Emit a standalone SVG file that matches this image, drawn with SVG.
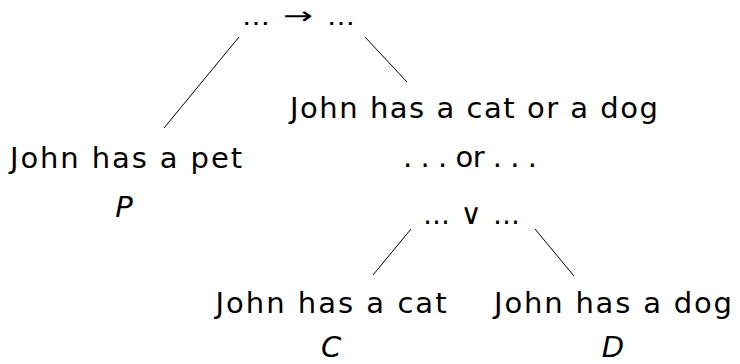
<svg xmlns="http://www.w3.org/2000/svg" width="740" height="364" viewBox="0 0 740 364">
<style>
text{font-family:"DejaVu Sans","Liberation Sans",sans-serif;font-size:29px;fill:#000}
.m{text-anchor:middle}
.i{font-style:italic}
.s{font-size:24px}
.c line{stroke:#000;stroke-width:1}
</style>
<rect width="740" height="364" fill="#fff"/>
<g id="top">
<text x="242" y="25" class="s" textLength="28" lengthAdjust="spacingAndGlyphs">…</text>
<text x="283" y="24" class="s" textLength="30" lengthAdjust="spacingAndGlyphs">→</text>
<text x="327" y="25" class="s" textLength="28" lengthAdjust="spacingAndGlyphs">…</text>
</g>
<g id="pet">
<text x="126" y="168" class="m" textLength="232" lengthAdjust="spacing">John has a pet</text>
<text x="124" y="217" class="m i">P</text>
</g>
<g id="catordog">
<text x="474" y="118" class="m" textLength="368" lengthAdjust="spacing">John has a cat or a dog</text>
<text x="470" y="167" class="m" textLength="134" lengthAdjust="spacing">. . . or . . .</text>
<text x="423" y="224" textLength="27" lengthAdjust="spacingAndGlyphs">…</text>
<text x="471" y="224" class="m">∨</text>
<text x="493" y="224" textLength="27" lengthAdjust="spacingAndGlyphs">…</text>
</g>
<g id="cat">
<text x="331" y="313" class="m" textLength="231" lengthAdjust="spacing">John has a cat</text>
<text x="331" y="357" class="m i">C</text>
</g>
<g id="dog">
<text x="613" y="313" class="m" textLength="238" lengthAdjust="spacing">John has a dog</text>
<text x="613" y="357" class="m i">D</text>
</g>
<g class="c" id="connectors">
<line x1="239" y1="37" x2="164" y2="128"/>
<line x1="365" y1="37" x2="407" y2="82"/>
<line x1="411" y1="229" x2="373" y2="275"/>
<line x1="535" y1="229" x2="574" y2="276"/>
</g>
</svg>
